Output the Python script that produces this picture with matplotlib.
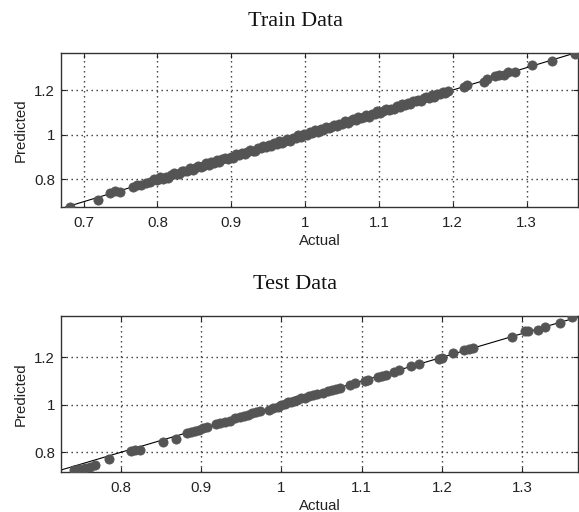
import matplotlib
matplotlib.use("Agg")
import matplotlib.pyplot as plt
from matplotlib.ticker import FixedLocator, FuncFormatter

# ---------------- data ----------------
train_actual = [
    0.682, 0.720, 0.736, 0.742, 0.749, 0.767, 0.772, 0.778, 0.785, 0.790,
    0.796, 0.800, 0.803, 0.807, 0.811, 0.814, 0.818, 0.822, 0.825, 0.829,
    0.833, 0.836, 0.840, 0.844, 0.848, 0.851, 0.855, 0.859, 0.862, 0.866,
    0.870, 0.873, 0.877, 0.881, 0.884, 0.888, 0.892, 0.895, 0.899, 0.903,
    0.906, 0.910, 0.914, 0.918, 0.921, 0.925, 0.929, 0.932, 0.936, 0.940,
    0.943, 0.947, 0.951, 0.954, 0.958, 0.962, 0.965, 0.969, 0.973, 0.976,
    0.980, 0.984, 0.988, 0.991, 0.995, 0.999, 1.002, 1.006, 1.010, 1.013,
    1.017, 1.021, 1.024, 1.028, 1.032, 1.035, 1.039, 1.043, 1.046, 1.050,
    1.054, 1.058, 1.061, 1.065, 1.069, 1.072, 1.076, 1.080, 1.083, 1.087,
    1.091, 1.094, 1.098, 1.102, 1.105, 1.109, 1.113, 1.116, 1.120, 1.124,
    1.128, 1.131, 1.135, 1.139, 1.142, 1.146, 1.150, 1.153, 1.157, 1.161,
    1.164, 1.168, 1.172, 1.175, 1.179, 1.183, 1.187, 1.190, 1.194,
    1.215, 1.219, 1.242, 1.246, 1.257, 1.263, 1.269, 1.275, 1.284, 1.307,
    1.334, 1.365,
]
train_pred = [
    0.678, 0.708, 0.740, 0.746, 0.745, 0.764, 0.774, 0.776, 0.782, 0.790,
    0.800, 0.797, 0.809, 0.802, 0.812, 0.808, 0.821, 0.829, 0.823, 0.824,
    0.838, 0.836, 0.836, 0.850, 0.842, 0.853, 0.860, 0.856, 0.861, 0.873,
    0.865, 0.876, 0.875, 0.887, 0.878, 0.889, 0.897, 0.891, 0.902, 0.896,
    0.912, 0.908, 0.918, 0.913, 0.923, 0.932, 0.926, 0.926, 0.940, 0.940,
    0.949, 0.943, 0.953, 0.948, 0.963, 0.960, 0.972, 0.964, 0.974, 0.980,
    0.974, 0.987, 0.985, 0.997, 0.991, 1.001, 0.997, 1.011, 1.009, 1.020,
    1.011, 1.024, 1.021, 1.033, 1.028, 1.036, 1.045, 1.038, 1.049, 1.048,
    1.061, 1.052, 1.063, 1.069, 1.065, 1.078, 1.073, 1.080, 1.088, 1.081,
    1.094, 1.092, 1.104, 1.097, 1.107, 1.114, 1.109, 1.117, 1.114, 1.128,
    1.126, 1.138, 1.131, 1.142, 1.137, 1.151, 1.149, 1.157, 1.151, 1.163,
    1.170, 1.165, 1.176, 1.170, 1.182, 1.181, 1.192, 1.186, 1.195,
    1.212, 1.222, 1.238, 1.248, 1.262, 1.266, 1.268, 1.279, 1.282, 1.310,
    1.332, 1.362,
]

test_actual = [
    0.742, 0.748, 0.755, 0.762, 0.768, 0.785, 0.812, 0.818, 0.824, 0.853,
    0.869, 0.882, 0.887, 0.892, 0.897, 0.902, 0.907, 0.919, 0.924, 0.930,
    0.936, 0.942, 0.948, 0.953, 0.958, 0.963, 0.968, 0.973, 0.985, 0.990,
    0.996, 1.000, 1.004, 1.008, 1.012, 1.016, 1.020, 1.025, 1.030, 1.035,
    1.040, 1.044, 1.052, 1.058, 1.063, 1.068, 1.073, 1.085, 1.092, 1.104,
    1.108, 1.120, 1.125, 1.130, 1.140, 1.146, 1.162, 1.172, 1.197, 1.200,
    1.214, 1.228, 1.234, 1.239, 1.287, 1.303, 1.307, 1.320, 1.328, 1.347,
    1.362,
]
test_pred = [
    0.726, 0.730, 0.735, 0.740, 0.746, 0.772, 0.806, 0.810, 0.808, 0.844,
    0.857, 0.880, 0.886, 0.889, 0.894, 0.903, 0.908, 0.920, 0.922, 0.928,
    0.932, 0.944, 0.948, 0.952, 0.957, 0.964, 0.968, 0.975, 0.980, 0.988,
    0.992, 1.000, 1.002, 1.010, 1.012, 1.018, 1.022, 1.027, 1.029, 1.036,
    1.040, 1.044, 1.050, 1.058, 1.062, 1.066, 1.070, 1.082, 1.090, 1.102,
    1.104, 1.118, 1.122, 1.127, 1.140, 1.145, 1.162, 1.170, 1.192, 1.198,
    1.217, 1.230, 1.236, 1.240, 1.287, 1.312, 1.310, 1.315, 1.329, 1.346,
    1.370,
]

train_xlim = (0.669, 1.370)
train_ylim = (0.675, 1.367)
test_xlim = (0.725, 1.370)
test_ylim = (0.717, 1.374)

train_xticks = [0.7, 0.8, 0.9, 1.0, 1.1, 1.2, 1.3]
test_xticks = [0.8, 0.9, 1.0, 1.1, 1.2, 1.3]
yticks = [0.8, 1.0, 1.2]

titles = ["Train Data", "Test Data"]
xlabel = "Actual"
ylabel = "Predicted"

# ---------------- figure ----------------
plt.rcParams['font.family'] = ['Liberation Sans', 'DejaVu Sans']
fig = plt.figure(figsize=(5.79, 5.12), dpi=100)
fig.patch.set_facecolor('white')

positions = [
    [60.7 / 579, 1 - 207.3 / 512, (578.3 - 60.7) / 579, (207.3 - 52.7) / 512],
    [60.7 / 579, 1 - 472.0 / 512, (578.3 - 60.7) / 579, (472.0 - 316.0) / 512],
]
panels = [
    (train_actual, train_pred, train_xlim, train_ylim, train_xticks),
    (test_actual, test_pred, test_xlim, test_ylim, test_xticks),
]

fmt = FuncFormatter(lambda v, p: "%g" % round(v, 6))
mcol = '#545454'

for i, (xa, yp, xl, yl, xt) in enumerate(panels):
    ax = fig.add_axes(positions[i])
    ax.set_xlim(*xl)
    ax.set_ylim(*yl)
    ax.plot([xl[0], xl[1]], [xl[0], xl[1]], color='black', lw=0.8, zorder=2)
    ax.plot(xa, yp, linestyle='none', marker='o', ms=6.6, mfc=mcol, mec=mcol,
            mew=0.6, zorder=3, clip_on=True)
    ax.xaxis.set_major_locator(FixedLocator(xt))
    ax.yaxis.set_major_locator(FixedLocator(yticks))
    ax.xaxis.set_major_formatter(fmt)
    ax.yaxis.set_major_formatter(fmt)
    ax.grid(True, linestyle=(0, (1.0, 2.6)), color='#333333', lw=1.0)
    ax.tick_params(direction='in', length=3.5, width=0.8, top=True, right=True,
                   labelsize=10.8, colors='#222222', labelcolor='#222222')
    ax.tick_params(axis='x', pad=6.5)
    ax.tick_params(axis='y', pad=4)
    for s in ax.spines.values():
        s.set_color('#333333')
        s.set_linewidth(1.0)
    ax.set_xlabel(xlabel, fontsize=10.8, color='#222222', labelpad=2.5)
    ax.set_ylabel(ylabel, fontsize=10.8, color='#222222', labelpad=4.5)
    ax.set_title(titles[i], family=['Liberation Serif', 'DejaVu Serif'],
                 fontsize=16, color='#111111', x=(295 - 60.7) / (578.3 - 60.7),
                 pad=19.5)

fig.savefig('out.png', dpi=100, facecolor='white')
